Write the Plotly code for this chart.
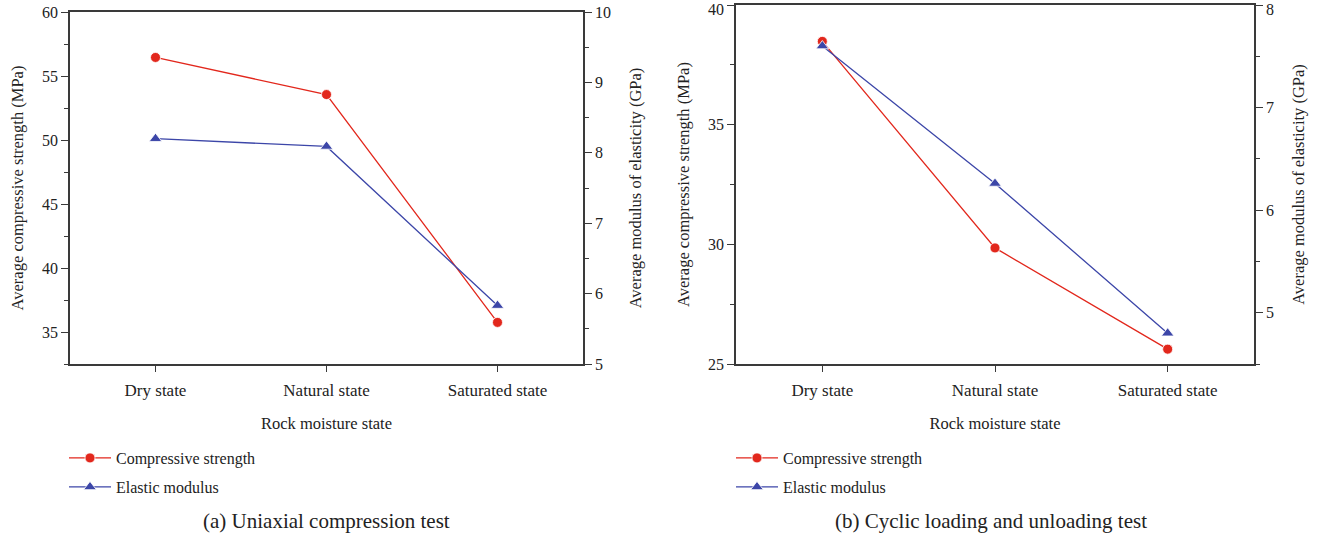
import plotly.graph_objects as go

W, H = 1319, 541

states = ["Dry state", "Natural state", "Saturated state"]

# (a) Uniaxial compression test
ucs_strength = [56.45, 53.55, 35.75]      # MPa
ucs_modulus = [8.20, 8.09, 5.83]          # GPa

# (b) Cyclic loading and unloading test
cyc_strength = [38.48, 29.85, 25.62]      # MPa
cyc_modulus = [7.60, 6.26, 4.80]          # GPa

RED = "#e2271c"
BLUE = "#3c46a8"
AX = "#3a3a3a"
FONT = "Liberation Serif"


def px_x(p):
    return p / W


def px_y(p):
    return 1 - p / H


fig = go.Figure()

fig.add_trace(go.Scatter(x=states, y=ucs_strength, name="Compressive strength",
                         mode="lines+markers", xaxis="x", yaxis="y",
                         line=dict(color=RED, width=1.3),
                         marker=dict(symbol="circle", size=10, color=RED,
                                     line=dict(color="white", width=0.8)),
                         legend="legend", showlegend=True))
fig.add_trace(go.Scatter(x=states, y=ucs_modulus, name="Elastic modulus",
                         mode="lines+markers", xaxis="x", yaxis="y2",
                         line=dict(color=BLUE, width=1.3),
                         marker=dict(symbol="triangle-up", size=11, color=BLUE,
                                     line=dict(color="white", width=0.8)),
                         legend="legend2", showlegend=True))
fig.add_trace(go.Scatter(x=states, y=cyc_strength, name="Compressive strength",
                         mode="lines+markers", xaxis="x2", yaxis="y3",
                         line=dict(color=RED, width=1.3),
                         marker=dict(symbol="circle", size=10, color=RED,
                                     line=dict(color="white", width=0.8)),
                         legend="legend3", showlegend=True))
fig.add_trace(go.Scatter(x=states, y=cyc_modulus, name="Elastic modulus",
                         mode="lines+markers", xaxis="x2", yaxis="y4",
                         line=dict(color=BLUE, width=1.3),
                         marker=dict(symbol="triangle-up", size=11, color=BLUE,
                                     line=dict(color="white", width=0.8)),
                         legend="legend4", showlegend=True))

ytickfont = dict(family=FONT, size=16, color="#222")
xtickfont = dict(family=FONT, size=17, color="#222")
titlefont = dict(family=FONT, size=16.5, color="#222")

xa_common = dict(type="category", range=[-0.5, 2.5], showline=True, mirror=True,
                 linecolor=AX, linewidth=1.5, ticks="outside", ticklen=6,
                 tickwidth=1.2, tickcolor=AX, showgrid=False, zeroline=False,
                 automargin=False, tickfont=xtickfont, ticklabelstandoff=4,
                 title=dict(text="Rock moisture state", font=titlefont, standoff=18))
ya_common = dict(showline=True, linecolor=AX, linewidth=1.5, ticks="outside",
                 ticklen=7, tickwidth=1.2, tickcolor=AX, showgrid=False,
                 zeroline=False, automargin=False, tickfont=ytickfont)

yA = [px_y(364), px_y(12)]
yB = [px_y(364), px_y(5)]

fig.update_layout(
    width=W, height=H, margin=dict(l=0, r=0, t=0, b=0, autoexpand=False),
    paper_bgcolor="white", plot_bgcolor="white", showlegend=True,
    font=dict(family=FONT, color="#222"),
    xaxis=dict(domain=[px_x(70), px_x(583)], anchor="y", **xa_common),
    yaxis=dict(domain=yA, anchor="x", range=[32.5, 60], dtick=5, tick0=0,
               minor=dict(ticks="outside", ticklen=4, dtick=2.5, tick0=0, tickcolor=AX),
               title=dict(text="Average compressive strength (MPa)", font=titlefont, standoff=14),
               **ya_common),
    yaxis2=dict(overlaying="y", side="right", anchor="x", range=[5, 10], dtick=1, tick0=0,
                minor=dict(ticks="outside", ticklen=4, dtick=0.5, tick0=0, tickcolor=AX),
                title=dict(text="Average modulus of elasticity (GPa)", font=titlefont, standoff=19),
                **ya_common),
    xaxis2=dict(domain=[px_x(736), px_x(1254)], anchor="y3", **xa_common),
    yaxis3=dict(domain=yB, anchor="x2", range=[25, 40], dtick=5, tick0=0,
                minor=dict(ticks="outside", ticklen=4, dtick=2.5, tick0=0, tickcolor=AX),
                title=dict(text="Average compressive strength (MPa)", font=titlefont, standoff=14),
                **ya_common),
    yaxis4=dict(overlaying="y3", side="right", anchor="x2", range=[4.5, 8], dtick=1, tick0=0,
                minor=dict(ticks="outside", ticklen=4, dtick=0.5, tick0=0, tickcolor=AX),
                title=dict(text="Average modulus of elasticity (GPa)", font=titlefont, standoff=19),
                **ya_common),
)

legfont = dict(family=FONT, size=16, color="#222")
for name, xp, yp in [("legend", 64, 458), ("legend2", 64, 487),
                     ("legend3", 731, 458), ("legend4", 731, 487)]:
    fig.layout[name] = dict(x=px_x(xp), y=px_y(yp), xanchor="left", yanchor="middle",
                            font=legfont, bgcolor="rgba(0,0,0,0)", borderwidth=0,
                            itemwidth=42, visible=True)

# top tick labels of chart (b) sit at the very top edge of the page;
# draw them explicitly, kept just inside the page
fig.add_annotation(text="40", x=px_x(736 - 11), xref="paper", y=1, yref="paper",
                   xanchor="right", yanchor="top", showarrow=False, font=ytickfont,
                   borderpad=0)
fig.add_annotation(text="8", x=px_x(1254 + 11), xref="paper", y=1, yref="paper",
                   xanchor="left", yanchor="top", showarrow=False, font=ytickfont,
                   borderpad=0)

fig.add_annotation(text="(a) Uniaxial compression test", x=px_x(326), y=px_y(521),
                   xref="paper", yref="paper", showarrow=False, yanchor="middle",
                   xanchor="center", font=dict(family=FONT, size=21, color="#222"))
fig.add_annotation(text="(b) Cyclic loading and unloading test", x=px_x(991), y=px_y(521),
                   xref="paper", yref="paper", showarrow=False, yanchor="middle",
                   xanchor="center", font=dict(family=FONT, size=21, color="#222"))

fig.write_html("out.html")
